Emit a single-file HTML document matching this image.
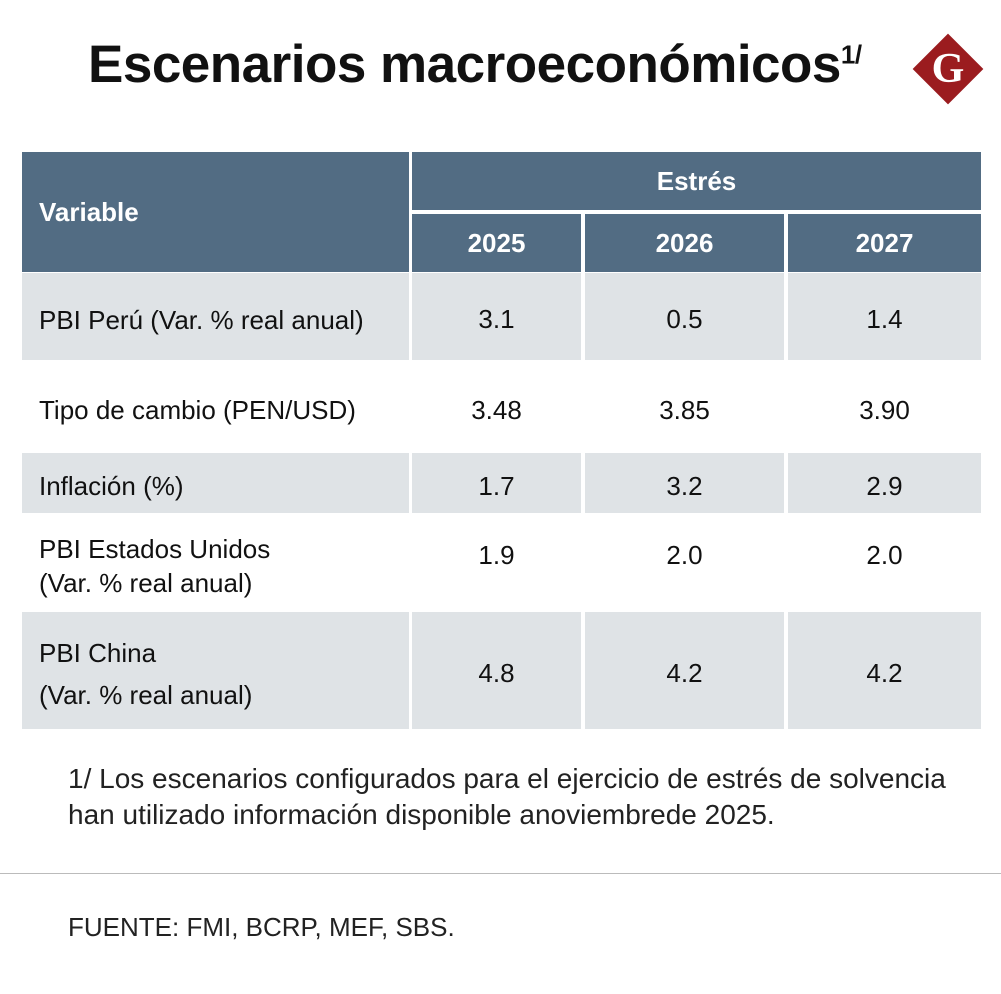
<!DOCTYPE html>
<html><head><meta charset="utf-8"><style>
body{margin:0;width:1001px;height:994px;background:#fff;position:relative;font-family:"Liberation Sans",sans-serif;color:#111;overflow:hidden}
.a{position:absolute}
.h{background:#526c83;color:#fff;font-weight:bold;font-size:26px;display:flex;align-items:center;justify-content:center}
.g{background:#dfe3e6}
.c{display:flex;align-items:center;justify-content:center;font-size:26px;padding-top:6px;box-sizing:border-box}
.l{display:flex;align-items:center;font-size:26px;padding-left:17px;padding-top:6px;box-sizing:border-box;line-height:34px}
</style></head><body>
<div class="a" style="left:88px;top:34px;font-size:53px;font-weight:bold;letter-spacing:-0.5px;white-space:nowrap">Escenarios macroeconómicos<sup style="font-size:26px">1/</sup></div>
<div class="a" style="left:923px;top:44px;width:50px;height:50px;background:#9b1c1f;transform:rotate(45deg)"></div>
<div class="a" style="left:923px;top:41px;width:50px;height:56px;color:#fff;font-family:'Liberation Serif',serif;font-weight:bold;font-size:42px;text-align:center;line-height:56px">G</div>

<div class="a h" style="left:22px;top:152px;width:387px;height:120px;justify-content:flex-start;padding-left:17px;box-sizing:border-box">Variable</div>
<div class="a h" style="left:412px;top:152px;width:569px;height:58px">Estrés</div>
<div class="a h" style="left:412px;top:214px;width:169px;height:58px">2025</div>
<div class="a h" style="left:585px;top:214px;width:199px;height:58px">2026</div>
<div class="a h" style="left:788px;top:214px;width:193px;height:58px">2027</div>
<div id="rows"></div>

<div class="a" style="left:68px;top:761px;font-size:28px;line-height:36px;color:#222;white-space:nowrap">1/ Los escenarios configurados para el ejercicio de estrés de solvencia<br>han utilizado información disponible anoviembrede 2025.</div>
<div class="a" style="left:0;top:873px;width:1001px;height:1px;background:#bbb"></div>
<div class="a" style="left:68px;top:912px;font-size:26px;color:#222">FUENTE: FMI, BCRP, MEF, SBS.</div>
<script>
const labels=["PBI Perú (Var. % real anual)","Tipo de cambio (PEN/USD)","Inflación (%)","PBI Estados Unidos<br>(Var. % real anual)","PBI China<br>(Var. % real anual)"];
const v2025=["3.1","3.48","1.7","1.9","4.8"];
const v2026=["0.5","3.85","3.2","2.0","4.2"];
const v2027=["1.4","3.90","2.9","2.0","4.2"];
const rowTops=[273,361,453,514,612,730];
const cols=[[412,169],[585,199],[788,193]];
const R=document.getElementById('rows');
labels.forEach((lab,i)=>{
 const top=rowTops[i],h=rowTops[i+1]-top-(i%2==0?1:0);const gray=i%2==0;
 const d=document.createElement('div');d.className='a l'+(gray?' g':'');
 
 
 d.style.cssText=`left:22px;top:${top}px;width:387px;height:${h}px`;
 if(i==4){d.style.lineHeight='42px';}
 d.innerHTML='<div>'+lab+'</div>';
 R.appendChild(d);
 [v2025,v2026,v2027].forEach((arr,j)=>{
  const c=document.createElement('div');c.className='a c'+(gray?' g':'');
  
  
  c.style.cssText=`left:${cols[j][0]}px;top:${top}px;width:${cols[j][1]}px;height:${h}px`;
  if(i==3)c.style.alignItems='flex-start',c.style.paddingTop='26px';
  c.textContent=arr[i];R.appendChild(c);
 });
});
</script>
</body></html>
